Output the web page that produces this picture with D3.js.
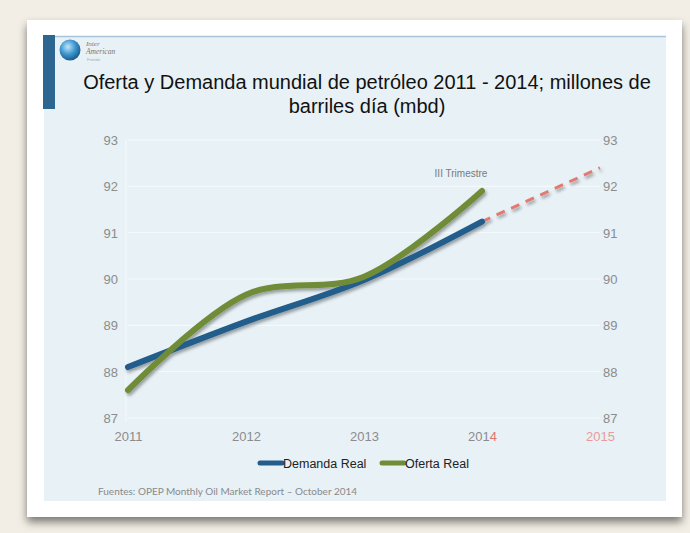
<!DOCTYPE html>
<html><head><meta charset="utf-8">
<script src="https://cdn.jsdelivr.net/npm/d3@7"></script>
<style>
html,body{margin:0;padding:0;background:#f2eee5;}
svg{display:block;}
</style></head>
<body>
<svg id="c" width="690" height="533"></svg>
<script>
const titleLines = ["Oferta y Demanda mundial de petróleo 2011 - 2014; millones de", "barriles día (mbd)"];
const years = [2011, 2012, 2013, 2014];
const demanda = [88.1, 89.08, 89.98, 91.24];
const oferta = [87.6, 89.66, 90.05, 91.9];
const proyYears = [2014, 2015];
const proyeccion = [91.24, 92.4];
const xTicks = [2011, 2012, 2013, 2014, 2015];
const yTicks = [87, 88, 89, 90, 91, 92, 93];
const seriesNames = ["Demanda Real", "Oferta Real"];
const annotation = "III Trimestre";
const source = "Fuentes: OPEP Monthly Oil Market Report – October 2014";

const svg = d3.select("#c");
const defs = svg.append("defs");
const fs = defs.append("filter").attr("id","cardShadow").attr("x","-5%").attr("y","-5%").attr("width","110%").attr("height","115%");
fs.append("feDropShadow").attr("dx",0).attr("dy",5).attr("stdDeviation",4).attr("flood-color","#000").attr("flood-opacity",0.5);
const ls = defs.append("filter").attr("id","lineShadow").attr("x","-10%").attr("y","-10%").attr("width","120%").attr("height","130%");
ls.append("feDropShadow").attr("dx",1.5).attr("dy",2.5).attr("stdDeviation",1.5).attr("flood-color","#000").attr("flood-opacity",0.35);

// card + panel
svg.append("rect").attr("x",27).attr("y",20).attr("width",655).attr("height",497).attr("fill","#fff").attr("filter","url(#cardShadow)");
svg.append("rect").attr("x",44).attr("y",36).attr("width",622).attr("height",465).attr("fill","#e7f1f6");
svg.append("line").attr("x1",44).attr("x2",666).attr("y1",36.5).attr("y2",36.5).attr("stroke","#a9c4da").attr("stroke-width",1.5);
svg.append("rect").attr("x",43).attr("y",35).attr("width",12).attr("height",74).attr("fill","#2d6691");

// logo
const lg = svg.append("g");
const grad = defs.append("radialGradient").attr("id","globe").attr("cx","40%").attr("cy","35%").attr("r","65%");
grad.append("stop").attr("offset","0%").attr("stop-color","#bfe6fb");
grad.append("stop").attr("offset","55%").attr("stop-color","#3f97cf");
grad.append("stop").attr("offset","100%").attr("stop-color","#1b5c8e");
lg.append("circle").attr("cx",70).attr("cy",50).attr("r",10.5).attr("fill","url(#globe)");
lg.append("text").attr("x",86).attr("y",46).text("Inter").attr("font-family","Liberation Serif, serif").attr("font-style","italic").attr("font-size",7).attr("fill","#777");
lg.append("text").attr("x",86).attr("y",54).text("American").attr("font-family","Liberation Serif, serif").attr("font-style","italic").attr("font-size",7.5).attr("fill","#777");
lg.append("text").attr("x",87).attr("y",61).text("Friends").attr("font-family","Liberation Sans, sans-serif").attr("font-size",4).attr("fill","#aaa");

// title
svg.append("g").selectAll("text").data(titleLines).join("text")
  .attr("x",367).attr("y",(d,i)=>89+i*24).attr("text-anchor","middle")
  .attr("font-family","Liberation Sans, Arial, sans-serif").attr("font-size",20).attr("fill","#111")
  .text(d=>d);

// scales
const x = d3.scaleLinear().domain([2011,2015]).range([128,600]);
const y = d3.scaleLinear().domain([87,93]).range([418,140]);

// gridlines
const grid = svg.append("g");
grid.selectAll("line.h").data(yTicks).join("line").attr("class","h")
  .attr("x1",x(2011)).attr("x2",x(2015)).attr("y1",d=>y(d)).attr("y2",d=>y(d))
  .attr("stroke","#f6fbfd").attr("stroke-width",1);
grid.append("line").attr("x1",x(2011)-2).attr("x2",x(2011)-2).attr("y1",y(93)).attr("y2",y(87)+4).attr("stroke","#f6fbfd");

// axes
const font = "Liberation Sans, Arial, sans-serif";
const leftAxis = svg.append("g").attr("transform","translate(118,0)").call(d3.axisLeft(y).tickValues(yTicks).tickSize(0).tickPadding(0).tickFormat(d3.format("d")));
const rightAxis = svg.append("g").attr("transform","translate(603,0)").call(d3.axisRight(y).tickValues(yTicks).tickSize(0).tickPadding(0).tickFormat(d3.format("d")));
const bottomAxis = svg.append("g").attr("transform","translate(0,432)").call(d3.axisBottom(x).tickValues(xTicks).tickSize(0).tickPadding(0).tickFormat(d3.format("d")));
[leftAxis,rightAxis,bottomAxis].forEach(a=>{
  a.select(".domain").remove();
  a.selectAll("text").attr("font-family",font).attr("font-size",13).attr("fill","#8c8c8c");
});
leftAxis.selectAll("text").attr("dy","0.35em");
rightAxis.selectAll("text").attr("dy","0.35em");
bottomAxis.selectAll("text").attr("dy","0.71em");
bottomAxis.selectAll("text").filter(d=>d===2014).text(null).each(function(){
  const t=d3.select(this);
  t.append("tspan").text("201");
  t.append("tspan").attr("fill","#e2716d").text("4");
});
bottomAxis.selectAll("text").filter(d=>d===2015).attr("fill","#eb9a9a");

// lines
const line = d3.line().x(d=>x(d[0])).y(d=>y(d[1])).curve(d3.curveCatmullRom.alpha(0.5));
const lines = svg.append("g").attr("filter","url(#lineShadow)");
lines.append("path").datum(proyYears.map((yr,i)=>[yr,proyeccion[i]])).attr("d",d3.line().x(d=>x(d[0])).y(d=>y(d[1])))
  .attr("fill","none").attr("stroke","#e27a72").attr("stroke-width",3).attr("stroke-dasharray","9,7");
lines.append("path").datum(years.map((yr,i)=>[yr,demanda[i]])).attr("d",line)
  .attr("fill","none").attr("stroke","#225d8b").attr("stroke-width",6).attr("stroke-linecap","round");
lines.append("path").datum(years.map((yr,i)=>[yr,oferta[i]])).attr("d",line)
  .attr("fill","none").attr("stroke","#708c37").attr("stroke-width",6).attr("stroke-linecap","round");

// annotation
svg.append("text").attr("x",461).attr("y",177).attr("text-anchor","middle").attr("font-family",font).attr("font-size",10).attr("fill","#7a7a7a").text(annotation);

// legend
const legColors = ["#225d8b","#708c37"];
const legX = [258,380];
const leg = svg.append("g");
seriesNames.forEach((n,i)=>{
  leg.append("line").attr("x1",legX[i]+2).attr("x2",legX[i]+24).attr("y1",463).attr("y2",463).attr("stroke",legColors[i]).attr("stroke-width",5).attr("stroke-linecap","round");
  leg.append("text").attr("x",legX[i]+25).attr("y",467.5).attr("font-family",font).attr("font-size",12.5).attr("fill","#222").text(n);
});

// source
svg.append("text").attr("x",98).attr("y",495).attr("font-family","Lato, Open Sans, sans-serif").attr("font-size",10).attr("fill","#8a8a8a").text(source);
</script>
</body></html>
